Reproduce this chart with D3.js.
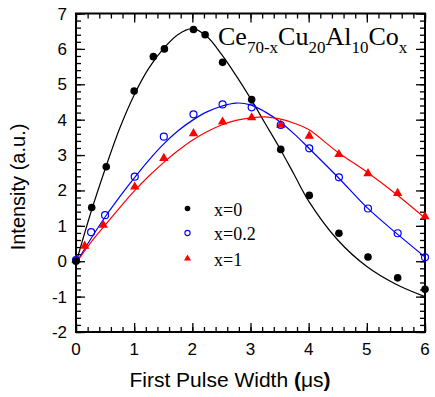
<!DOCTYPE html>
<html><head><meta charset="utf-8">
<script src="https://cdn.jsdelivr.net/npm/d3@7/dist/d3.min.js"></script>
<style>body{margin:0;background:#fff}svg{display:block}</style>
</head><body>
<svg id="c" width="435" height="397"></svg>
<script>
// ---- data ----
const xTicks = [0,1,2,3,4,5,6];
const yTicks = [-2,-1,0,1,2,3,4,5,6,7];

const ptsX0 = [0,0.27,0.52,1.0,1.33,1.52,2.02,2.22,2.52,3.02,3.52,4.01,4.52,5.02,5.53,6.0];
const ptsY0 = [0,1.52,2.67,4.81,5.78,6.0,6.55,6.40,5.62,4.57,3.16,1.86,0.79,0.12,-0.47,-0.79];

const ptsX02 = [0,0.26,0.5,1.01,1.51,2.02,2.52,3.02,3.52,4.01,4.52,5.02,5.53,6.0];
const ptsY02 = [0.03,0.82,1.30,2.39,3.52,4.15,4.43,4.35,3.85,3.19,2.37,1.49,0.79,0.11];

const ptsX1 = [0,0.15,0.47,1.01,1.51,2.02,2.52,3.02,3.52,4.01,4.52,5.02,5.53,6.0];
const ptsY1 = [0.03,0.43,1.02,2.10,2.91,3.61,3.94,4.06,3.85,3.54,3.02,2.48,1.92,1.26];

const fitX  = [0,0.25,0.5,0.75,1.0,1.25,1.5,1.75,2.0,2.25,2.5,2.75,3.0,3.25,3.5,3.75,4.0,4.5,5.0,5.5,6.0];
const fitY0 = [-0.05,1.35,2.6,3.75,4.7,5.45,6.0,6.4,6.57,6.35,5.85,5.25,4.6,3.9,3.2,2.45,1.7,0.6,-0.15,-0.65,-1.0];
const fitY02= [-0.06,0.62,1.25,1.82,2.35,2.85,3.3,3.68,3.98,4.22,4.38,4.47,4.42,4.22,3.95,3.6,3.2,2.38,1.52,0.8,0.12];
const fitY1 = [-0.05,0.52,1.02,1.51,1.98,2.4,2.78,3.12,3.42,3.66,3.85,3.98,4.05,4.08,4.02,3.9,3.72,3.08,2.52,1.9,1.22];

const legendLabels = ["x=0","x=0.2","x=1"];

// ---- layout ----
const svg = d3.select("#c");
const L=76, R=425, T=13.5, B=332;
const x = d3.scaleLinear().domain([0,6]).range([L,R]);
const y = d3.scaleLinear().domain([-2,7]).range([B,T]);
const sans = "'Liberation Sans', Arial, Helvetica, sans-serif";
const serif = "'Liberation Serif', 'Times New Roman', serif";

const minorX = d3.range(0,6.0001,0.2).map(v=>+v.toFixed(2));
const minorY = d3.range(-2,7.0001,0.2).map(v=>+v.toFixed(2));

function addAxis(axisFn, scale, transform, vals, size){
  const g = svg.append("g").attr("transform",transform)
    .call(axisFn(scale).tickValues(vals).tickSize(size).tickFormat(""));
  g.select(".domain").remove();
  g.selectAll(".tick line").attr("stroke","#000").attr("stroke-width",1.3);
  return g;
}
// inward ticks on all four sides
addAxis(d3.axisBottom, x, `translate(0,${B})`, minorX, -5);
addAxis(d3.axisBottom, x, `translate(0,${B})`, xTicks, -9);
addAxis(d3.axisTop, x, `translate(0,${T})`, minorX, -5);
addAxis(d3.axisTop, x, `translate(0,${T})`, xTicks, -9);
addAxis(d3.axisLeft, y, `translate(${L},0)`, minorY, -5);
addAxis(d3.axisLeft, y, `translate(${L},0)`, yTicks, -9);
addAxis(d3.axisRight, y, `translate(${R},0)`, minorY, -5);
addAxis(d3.axisRight, y, `translate(${R},0)`, yTicks, -9);

// tick labels
svg.append("g").selectAll("text").data(xTicks).join("text")
  .attr("x",d=>x(d)).attr("y",355).attr("text-anchor","middle")
  .attr("font-family",sans).attr("font-size",17).text(d=>d);
svg.append("g").selectAll("text").data(yTicks).join("text")
  .attr("x",67).attr("y",d=>y(d)+6).attr("text-anchor","end")
  .attr("font-family",sans).attr("font-size",17).text(d=>d);

// frame
svg.append("rect").attr("x",L).attr("y",T).attr("width",R-L).attr("height",B-T)
  .attr("fill","none").attr("stroke","#000").attr("stroke-width",2);

// curves
svg.append("clipPath").attr("id","pc").append("rect")
  .attr("x",L).attr("y",T).attr("width",R-L).attr("height",B-T);
const line = d3.line().curve(d3.curveCatmullRom.alpha(0.5));
const series = [
  {fy:fitY0, col:"#000"},
  {fy:fitY02, col:"#0000ff"},
  {fy:fitY1, col:"#ff0000"}
];
series.forEach(s=>{
  svg.append("path").attr("clip-path","url(#pc)")
    .attr("d", line(fitX.map((v,i)=>[x(v), y(s.fy[i])])))
    .attr("fill","none").attr("stroke",s.col).attr("stroke-width",1.2);
});

// points
const tri = d3.symbol().type(d3.symbolTriangle).size(38);
const triSmall = d3.symbol().type(d3.symbolTriangle).size(22);
svg.append("g").selectAll("path").data(ptsX1.map((v,i)=>[v,ptsY1[i]])).join("path")
  .attr("d",tri).attr("transform",d=>`translate(${x(d[0])},${y(d[1])})`).attr("fill","#ff0000");
svg.append("g").selectAll("circle").data(ptsX02.map((v,i)=>[v,ptsY02[i]])).join("circle")
  .attr("cx",d=>x(d[0])).attr("cy",d=>y(d[1])).attr("r",3.5)
  .attr("fill","none").attr("stroke","#0000ff").attr("stroke-width",1.2);
svg.append("g").selectAll("circle").data(ptsX0.map((v,i)=>[v,ptsY0[i]])).join("circle")
  .attr("cx",d=>x(d[0])).attr("cy",d=>y(d[1])).attr("r",3.8).attr("fill","#000");

// legend
const lg = svg.append("g");
const ly = [208.5, 233, 258.5];
lg.append("circle").attr("cx",187.5).attr("cy",ly[0]).attr("r",2.8).attr("fill","#000");
lg.append("circle").attr("cx",187.5).attr("cy",ly[1]).attr("r",2.6).attr("fill","none").attr("stroke","#0000ff").attr("stroke-width",1.1);
lg.append("path").attr("d",triSmall).attr("transform",`translate(187.5,${ly[2]})`).attr("fill","#ff0000");
lg.selectAll("text").data(legendLabels).join("text")
  .attr("x",214).attr("y",(d,i)=>ly[i]+7).attr("font-family",serif).attr("font-size",18).text(d=>d);

// title
const t = svg.append("text").attr("x",218).attr("y",44.5).attr("font-family",serif).attr("font-size",26);
[["Ce",false],["70-x",true],["Cu",false],["20",true],["Al",false],["10",true],["Co",false],["x",true]].forEach(([s,sub],i)=>{
  const ts = t.append("tspan").text(s);
  if(sub){ ts.attr("font-size",17).attr("dy",8.5); }
  else if(i>0){ ts.attr("dy",-8.5); }
});

// axis labels
const xl = svg.append("text").attr("x",230).attr("y",387).attr("text-anchor","middle")
  .attr("font-family",sans).attr("font-size",21);
xl.append("tspan").text("First Pulse Width ");
xl.append("tspan").attr("font-weight","bold").text("(");
xl.append("tspan").attr("font-weight","normal").text("μs");
xl.append("tspan").attr("font-weight","bold").text(")");

svg.append("text").attr("transform","translate(25,187) rotate(-90)").attr("text-anchor","middle")
  .attr("font-family",sans).attr("font-size",20).text("Intensity (a.u.)");
</script>
</body></html>
